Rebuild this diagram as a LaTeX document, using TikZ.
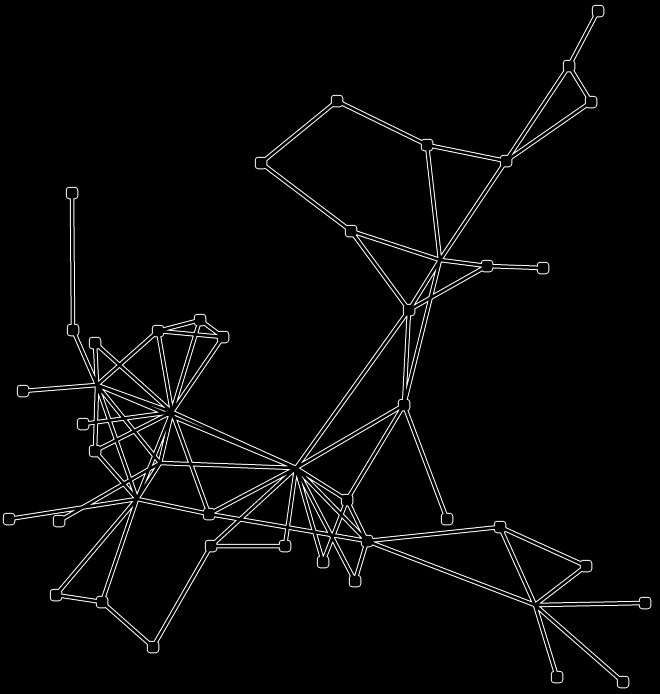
\documentclass[tikz,border=0pt]{standalone}
\tikzset{
  spot/.style={inner sep=0pt, minimum size=0pt, outer sep=0pt},
  boxout/.style={fill=white, rounded corners=3.5pt, minimum size=12.5pt, inner sep=0pt},
  boxin/.style={fill=black, rounded corners=2.5pt, minimum size=10.5pt, inner sep=0pt},
  wire/.style={draw=white, line width=1pt, double=black, double distance=2.5pt, line cap=round}
}
\begin{document}
\begin{tikzpicture}[x=1pt, y=-1pt]
		\fill[black] (0,0) rectangle (660,694);
		% upper right group
		\node[spot] (v1) at (598,11) {};
		\node[spot] (v2) at (569,66) {};
		\node[spot] (v3) at (591,102) {};
		\node[spot] (v4) at (506,161) {};
		\node[spot] (v5) at (427,145) {};
		\node[spot] (v6) at (337,101) {};
		\node[spot] (v7) at (261,163) {};
		\node[spot] (v8) at (351,231) {};
		\node[spot] (v9) at (440,260) {};
		\node[spot] (v10) at (487,266) {};
		\node[spot] (v11) at (543,268) {};
		\node[spot] (v12) at (409,310) {};
		\node[spot] (v13) at (404,405) {};
		\node[spot] (v14) at (447,519) {};
		% left group
		\node[spot] (v15) at (72,193) {};
		\node[spot] (v16) at (73,330) {};
		\node[spot] (v17) at (95,343) {};
		\node[spot] (v18) at (158,331) {};
		\node[spot] (v19) at (200,320) {};
		\node[spot] (v20) at (223,337) {};
		\node[spot] (v21) at (23,391) {};
		\node[spot] (v22) at (97,385) {};
		\node[spot] (v23) at (172,412) {};
		\node[spot] (v24) at (83,424) {};
		\node[spot] (v25) at (95,451) {};
		\node[spot] (v26) at (160,463) {};
		\node[spot] (v27) at (137,499) {};
		\node[spot] (v28) at (9,519) {};
		\node[spot] (v29) at (59,521) {};
		\node[spot] (v30) at (56,595) {};
		\node[spot] (v31) at (102,602) {};
		\node[spot] (v32) at (153,647) {};
		\node[spot] (v33) at (209,514) {};
		\node[spot] (v34) at (211,546) {};
		% middle and lower right
		\node[spot] (v35) at (296,468) {};
		\node[spot] (v36) at (285,546) {};
		\node[spot] (v37) at (323,562) {};
		\node[spot] (v38) at (355,581) {};
		\node[spot] (v39) at (347,500) {};
		\node[spot] (v40) at (367,541) {};
		\node[spot] (v41) at (500,527) {};
		\node[spot] (v42) at (586,566) {};
		\node[spot] (v43) at (535,605) {};
		\node[spot] (v44) at (645,603) {};
		\node[spot] (v45) at (557,677) {};
		\node[spot] (v46) at (623,682) {};
		\foreach \n in {v1,v2,v3,v4,v5,v6,v7,v8,v10,v11,v12,v13,v14,v15,v16,v17,v18,v19,v20,v21,v24,v25,v28,v29,v30,v31,v32,v33,v34,v36,v37,v38,v39,v40,v41,v42,v44,v45,v46}
			\node[boxout] at (\n) {};
		\draw[wire]
			(v1) -- (v2) (v2) -- (v3) (v2) -- (v4) (v3) -- (v4)
			(v4) -- (v5) (v5) -- (v6) (v6) -- (v7) (v7) -- (v8)
			(v8) -- (v9) (v5) -- (v9) (v4) -- (v9) (v9) -- (v12)
			(v9) -- (v10) (v10) -- (v11) (v8) -- (v12) (v10) -- (v12)
			(v12) -- (v13) (v9) -- (v13) (v13) -- (v14)
			(v12) -- (v35) (v13) -- (v35) (v13) -- (v39)
			(v15) -- (v16) (v16) -- (v22) (v17) -- (v22) (v17) -- (v23)
			(v18) -- (v22) (v18) -- (v23) (v18) -- (v19) (v18) -- (v20)
			(v19) -- (v20) (v19) -- (v23) (v20) -- (v23) (v21) -- (v22)
			(v22) -- (v23) (v22) -- (v25) (v22) -- (v26) (v22) -- (v27)
			(v22) -- (v35) (v24) -- (v23) (v25) -- (v23) (v25) -- (v27)
			(v23) -- (v26) (v23) -- (v27) (v23) -- (v33) (v23) -- (v35)
			(v26) -- (v27) (v26) -- (v35) (v28) -- (v27) (v29) -- (v26)
			(v30) -- (v27) (v30) -- (v31) (v31) -- (v27) (v31) -- (v32)
			(v32) -- (v34) (v27) -- (v33)
			(v35) -- (v36) (v35) -- (v37) (v35) -- (v38) (v35) -- (v39)
			(v35) -- (v40) (v33) -- (v35) (v34) -- (v35) (v34) -- (v36)
			(v33) -- (v40) (v39) -- (v40) (v38) -- (v40) (v39) -- (v37)
			(v40) -- (v41) (v40) -- (v43) (v41) -- (v42) (v41) -- (v43)
			(v42) -- (v43) (v43) -- (v44) (v43) -- (v45) (v43) -- (v46);
		\foreach \n in {v1,v2,v3,v4,v5,v6,v7,v8,v10,v11,v12,v13,v14,v15,v16,v17,v18,v19,v20,v21,v24,v25,v28,v29,v30,v31,v32,v33,v34,v36,v37,v38,v39,v40,v41,v42,v44,v45,v46}
			\node[boxin] at (\n) {};
\end{tikzpicture}
\end{document}
